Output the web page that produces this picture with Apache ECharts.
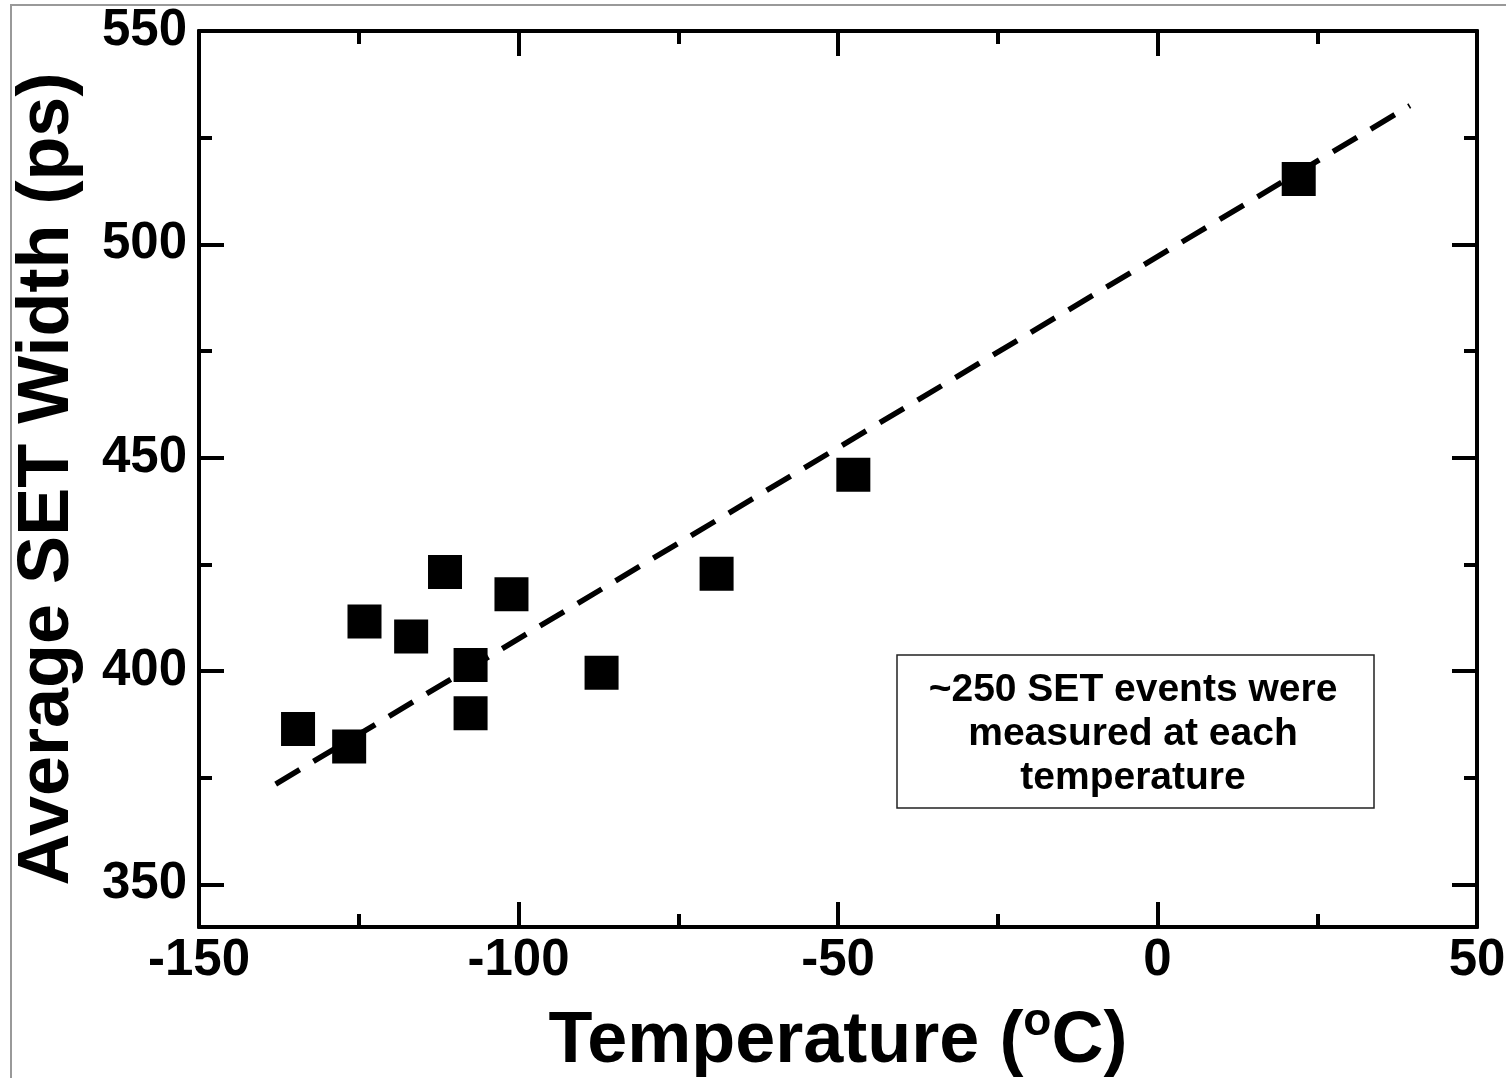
<!DOCTYPE html>
<html>
<head>
<meta charset="utf-8">
<script src="https://cdn.jsdelivr.net/npm/echarts@6/dist/echarts.min.js"></script>
<style>
html,body{margin:0;padding:0;background:#fff;}
#chart{width:1506px;height:1078px;}
</style>
</head>
<body>
<div id="chart"></div>
<script>
// Data
var temperatures = [-134.5, -126.5, -124.1, -116.8, -111.5, -107.5, -107.5, -101.1, -87.0, -69.0, -47.6, 22.1];
var setWidths    = [386.4, 382.3, 411.6, 408.1, 423.2, 401.4, 390.1, 418.0, 399.6, 422.8, 446.0, 515.3];
var trendX = [-138, 39.5];
var trendY = [373.5, 532.5];
var yMajorTicks = [350, 400, 450, 500, 550];
var yMinorTicks = [375, 425, 475, 525];
var noteLines = ['~250 SET events were', 'measured at each', 'temperature'];

var FONT = '"Liberation Sans", Arial, Helvetica, sans-serif';

var scatterData = temperatures.map(function (t, i) { return [t, setWidths[i]]; });
var trendData = trendX.map(function (t, i) { return [t, trendY[i]]; });

var chart = echarts.init(document.getElementById('chart'), null, {renderer: 'canvas'});

function xAxisDef(pos, showLabels) {
  return {
    type: 'value', position: pos, min: -150, max: 50, interval: 50,
    axisLine: {show: true, onZero: false, lineStyle: {color: '#000', width: 4}},
    axisTick: {show: true, inside: true, length: 25, lineStyle: {color: '#000', width: 4}},
    minorTick: {show: true, splitNumber: 2, length: 13, lineStyle: {color: '#000', width: 4}},
    axisLabel: {show: showLabels, color: '#000', fontFamily: FONT, fontWeight: 'bold', fontSize: 51, margin: 8},
    splitLine: {show: false}, minorSplitLine: {show: false}
  };
}
function yAxisDef(pos, ticks, len, showLabels) {
  return {
    type: 'value', position: pos, min: 340, max: 550,
    axisLine: {show: true, onZero: false, lineStyle: {color: '#000', width: 4}},
    axisTick: {show: true, inside: true, length: len, customValues: ticks, lineStyle: {color: '#000', width: 4}},
    axisLabel: {show: showLabels, customValues: ticks, color: '#000', fontFamily: FONT, fontWeight: 'bold', fontSize: 51, margin: 12},
    splitLine: {show: false}
  };
}

var xBottom = xAxisDef('bottom', true);
xBottom.name = 'Temperature ({sup|o}C)';
xBottom.nameLocation = 'middle';
xBottom.nameGap = 72;
xBottom.nameTextStyle = {
  color: '#000', fontFamily: FONT, fontWeight: 'bold', fontSize: 72,
  rich: {sup: {color: '#000', fontFamily: FONT, fontWeight: 'bold', fontSize: 46, verticalAlign: 'top', padding: [0, 0, 40, 0]}}
};
var xTop = xAxisDef('top', false);

var yLeft = yAxisDef('left', yMajorTicks, 25, true);
yLeft.name = 'Average SET Width (ps)';
yLeft.nameLocation = 'middle';
yLeft.nameGap = 115;
yLeft.nameTextStyle = {color: '#000', fontFamily: FONT, fontWeight: 'bold', fontSize: 72};
var yLeftMinor = yAxisDef('left', yMinorTicks, 13, false);
var yRight = yAxisDef('right', yMajorTicks, 25, false);
var yRightMinor = yAxisDef('right', yMinorTicks, 13, false);

var option = {
  backgroundColor: '#fff',
  animation: false,
  grid: {left: 199, top: 31, right: 29, bottom: 151, containLabel: false, outerBoundsMode: 'none'},
  xAxis: [xBottom, xTop],
  yAxis: [yLeft, yLeftMinor, yRight, yRightMinor],
  series: [
    {
      type: 'line', data: trendData, xAxisIndex: 0, yAxisIndex: 0,
      symbol: 'none', silent: true,
      lineStyle: {color: '#000', width: 5.5, type: [28, 16]}
    },
    {
      type: 'scatter', data: scatterData, xAxisIndex: 0, yAxisIndex: 0,
      symbol: 'rect', symbolSize: 34,
      itemStyle: {color: '#000', opacity: 1}
    }
  ],
  graphic: [
    {
      type: 'rect', silent: true, z: -10,
      shape: {x: 11, y: 5, width: 1520, height: 1100},
      style: {fill: 'none', stroke: '#999', lineWidth: 2}
    },
    {
      type: 'rect', silent: true,
      shape: {x: 897, y: 655, width: 477, height: 153},
      style: {fill: '#fff', stroke: '#222', lineWidth: 1.5}
    },
    {
      type: 'text', silent: true, x: 1133, y: 734,
      style: {
        text: noteLines.join('\n'), fill: '#000', font: 'bold 39px ' + FONT,
        lineHeight: 44, align: 'center', verticalAlign: 'middle'
      }
    }
  ]
};
chart.setOption(option);
</script>
</body>
</html>
